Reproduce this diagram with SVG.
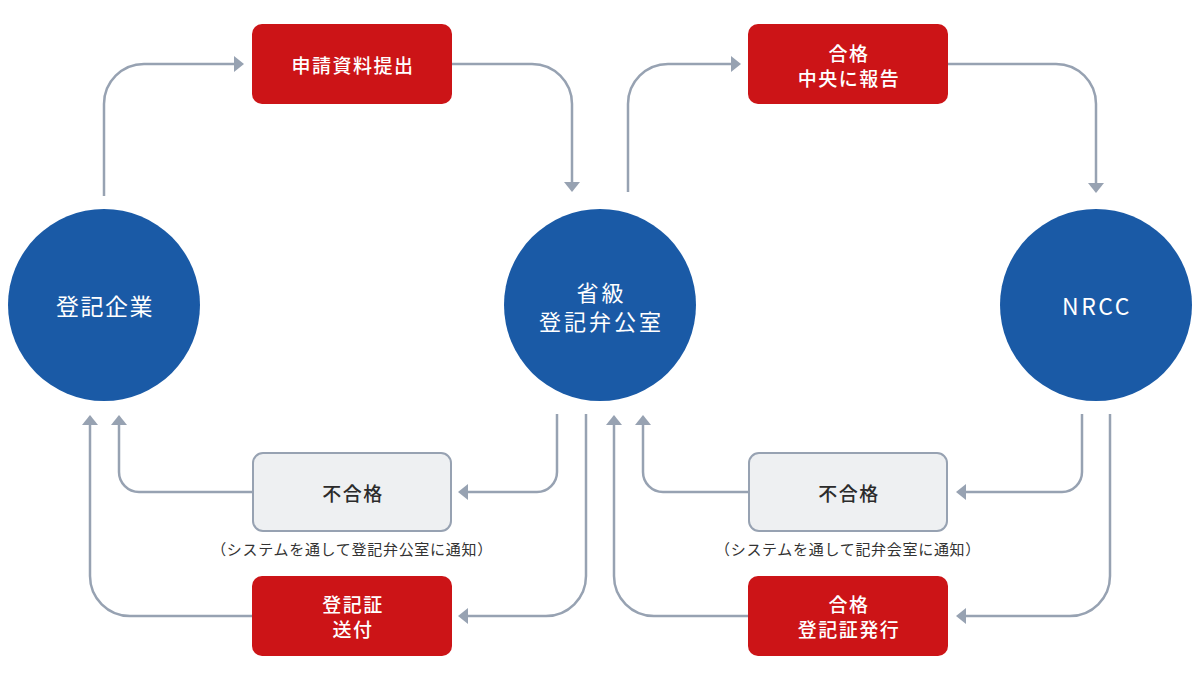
<svg xmlns="http://www.w3.org/2000/svg" width="1200" height="680" viewBox="0 0 1200 680">
<style>
text{font-family:"Noto Sans CJK JP","Noto Sans",sans-serif;font-weight:500;text-anchor:middle;dominant-baseline:central}
.circle{fill:#1a5aa6}
.ct{fill:#fff;font-size:23px;font-weight:400;letter-spacing:1.5px}
.ct2{fill:#fff;font-size:22px;font-weight:400;letter-spacing:3px}
.red{fill:#cc1417}
.gray{fill:#eef0f2;stroke:#97a2b2;stroke-width:2}
.bt{fill:#fff;font-size:19px;letter-spacing:1.5px}
.gt{fill:#2b2b2b;font-size:19px;letter-spacing:1.5px}
.note{fill:#333;font-size:15px;font-weight:400;letter-spacing:0.7px}
.conn path{fill:none;stroke:#97a2b2;stroke-width:2.5;marker-end:url(#ah)}
</style>
<defs>
<marker id="ah" markerUnits="userSpaceOnUse" markerWidth="10" markerHeight="16" refX="2" refY="8" orient="auto" viewBox="0 0 10 16">
<path d="M0,0 L10,8 L0,16 Z" fill="#97a2b2"/>
</marker>
</defs>
<rect width="1200" height="680" fill="#fff"/>
<g class="conn" id="connectors">
<path d="M104,196 V104 A40,40 0 0 1 144,64 H236"/>
<path d="M452,64 H532 A40,40 0 0 1 572,104 V184"/>
<path d="M628,192 V104 A40,40 0 0 1 668,64 H733"/>
<path d="M948,64 H1056 A40,40 0 0 1 1096,104 V185"/>
<path d="M557,414 V472 A20,20 0 0 1 537,492 H466"/>
<path d="M252,492 H139 A20,20 0 0 1 119,472 V423"/>
<path d="M586,414 V576 A40,40 0 0 1 546,616 H466"/>
<path d="M252,616 H130 A40,40 0 0 1 90,576 V423"/>
<path d="M1082,414 V472 A20,20 0 0 1 1062,492 H964"/>
<path d="M748,492 H663 A20,20 0 0 1 643,472 V423"/>
<path d="M1110,414 V576 A40,40 0 0 1 1070,616 H964"/>
<path d="M748,616 H654 A40,40 0 0 1 614,576 V423"/>
</g>
<g id="node-company">
<circle class="circle" cx="104" cy="305" r="96"/>
<text class="ct" x="105" y="305">登記企業</text>
</g>
<g id="node-province">
<circle class="circle" cx="600" cy="305" r="96"/>
<text class="ct2" x="601.5" y="291">省級</text>
<text class="ct2" x="601.5" y="320">登記弁公室</text>
</g>
<g id="node-nrcc">
<circle class="circle" cx="1096" cy="305" r="96"/>
<text class="ct" x="1097" y="305" style="letter-spacing:2.5px">NRCC</text>
</g>
<g id="node-submit">
<rect class="red" x="252" y="24" width="200" height="80" rx="10"/>
<text class="bt" x="353" y="64">申請資料提出</text>
</g>
<g id="node-report">
<rect class="red" x="748" y="24" width="200" height="80" rx="10"/>
<text class="bt" x="849" y="52">合格</text>
<text class="bt" x="849" y="77">中央に報告</text>
</g>
<g id="node-fail-left">
<rect class="gray" x="253" y="453" width="198" height="78" rx="10"/>
<text class="gt" x="353" y="492">不合格</text>
<text class="note" x="352" y="548">（システムを通して登記弁公室に通知）</text>
</g>
<g id="node-send">
<rect class="red" x="252" y="576" width="200" height="80" rx="10"/>
<text class="bt" x="353" y="603">登記証</text>
<text class="bt" x="353" y="628">送付</text>
</g>
<g id="node-fail-right">
<rect class="gray" x="749" y="453" width="198" height="78" rx="10"/>
<text class="gt" x="849" y="492">不合格</text>
<text class="note" x="848" y="548">（システムを通して記弁会室に通知）</text>
</g>
<g id="node-issue">
<rect class="red" x="748" y="576" width="200" height="80" rx="10"/>
<text class="bt" x="849" y="603">合格</text>
<text class="bt" x="849" y="628">登記証発行</text>
</g>
</svg>
